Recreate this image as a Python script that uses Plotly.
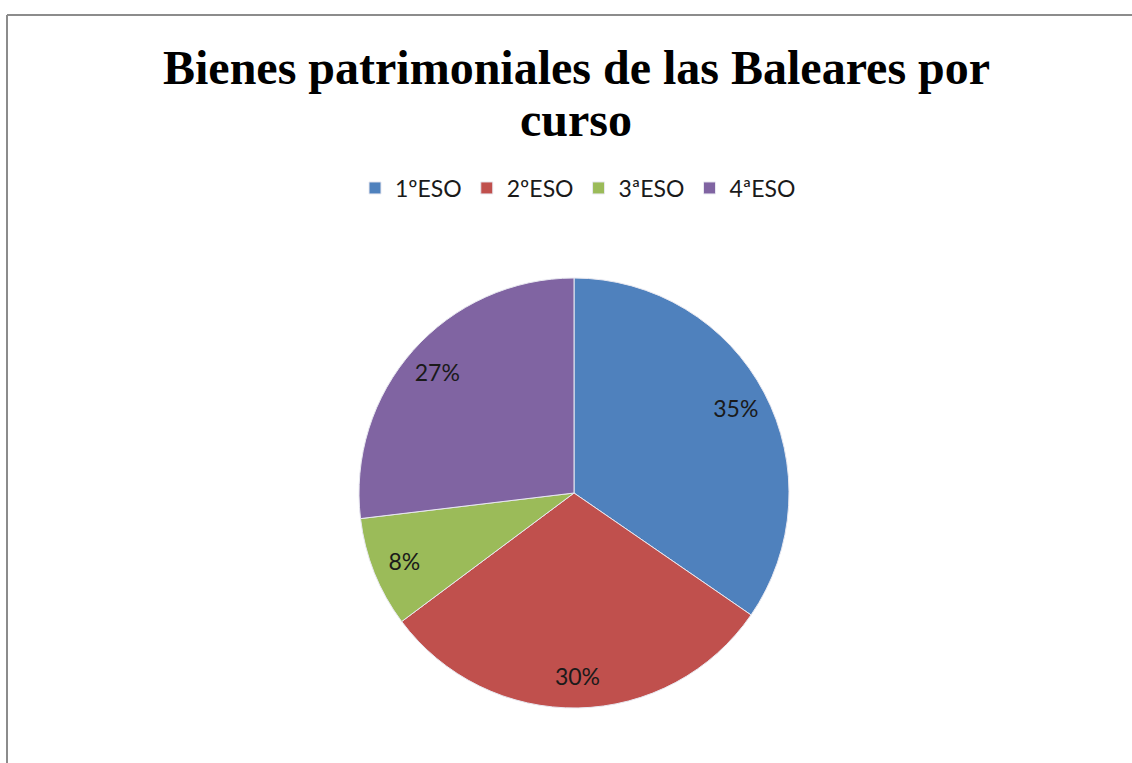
import plotly.graph_objects as go

cursos = ['1ºESO', '2ºESO', '3ªESO', '4ªESO']
porcentajes = [34.6, 30.2, 8.3, 26.9]
colores = ['#4F81BD', '#C0504D', '#9BBB59', '#8064A2']

W, H = 1132, 763
dominio = dict(x=[(574 - 215) / W, (574 + 215) / W],
               y=[(763 - 708) / H, (763 - 278) / H])

fig = go.Figure()

# Tarta con los colores (sin texto)
fig.add_trace(go.Pie(
    labels=cursos, values=porcentajes,
    sort=False, direction='clockwise', rotation=0,
    marker=dict(colors=colores, line=dict(color='#e8e8f0', width=1)),
    textinfo='none',
    hoverinfo='label+percent',
    domain=dominio,
))

# Anillo transparente encima solo para colocar las etiquetas hacia fuera
fig.add_trace(go.Pie(
    labels=cursos, values=porcentajes,
    sort=False, direction='clockwise', rotation=0, hole=0.7,
    marker=dict(colors=['rgba(0,0,0,0)'] * 4, line=dict(width=0)),
    texttemplate='%{percent:.0%}',
    textposition='inside',
    insidetextorientation='horizontal',
    textfont=dict(family='Lato', size=23, color='#1a1a1a'),
    showlegend=False, hoverinfo='skip',
    domain=dominio,
))

fig.update_layout(
    width=W, height=H,
    margin=dict(l=0, r=0, t=0, b=0),
    paper_bgcolor='white',
    font=dict(family='Lato', color='#1a1a1a'),
    legend=dict(orientation='h', x=578 / W, xanchor='center', y=1 - 188 / H, yanchor='middle',
                font=dict(size=23), itemwidth=30, traceorder='normal'),
    annotations=[
        dict(text='<b>Bienes patrimoniales de las Baleares por</b>', x=576 / W, y=1 - 68 / H,
             xref='paper', yref='paper', showarrow=False, xanchor='center', yanchor='middle',
             font=dict(family='Liberation Serif', size=48, color='black')),
        dict(text='<b>curso</b>', x=576 / W, y=1 - 120 / H,
             xref='paper', yref='paper', showarrow=False, xanchor='center', yanchor='middle',
             font=dict(family='Liberation Serif', size=48, color='black')),
    ],
    shapes=[
        dict(type='line', xref='paper', yref='paper', x0=7 / W, x1=1.0, y0=1 - 15 / H, y1=1 - 15 / H,
             line=dict(color='#8c8c8c', width=2)),
        dict(type='line', xref='paper', yref='paper', x0=7 / W, x1=7 / W, y0=0, y1=1 - 15 / H,
             line=dict(color='#8c8c8c', width=2)),
    ],
)

fig.write_html("out.html", config={'displayModeBar': False},
               post_script="document.body.style.margin='0';")
